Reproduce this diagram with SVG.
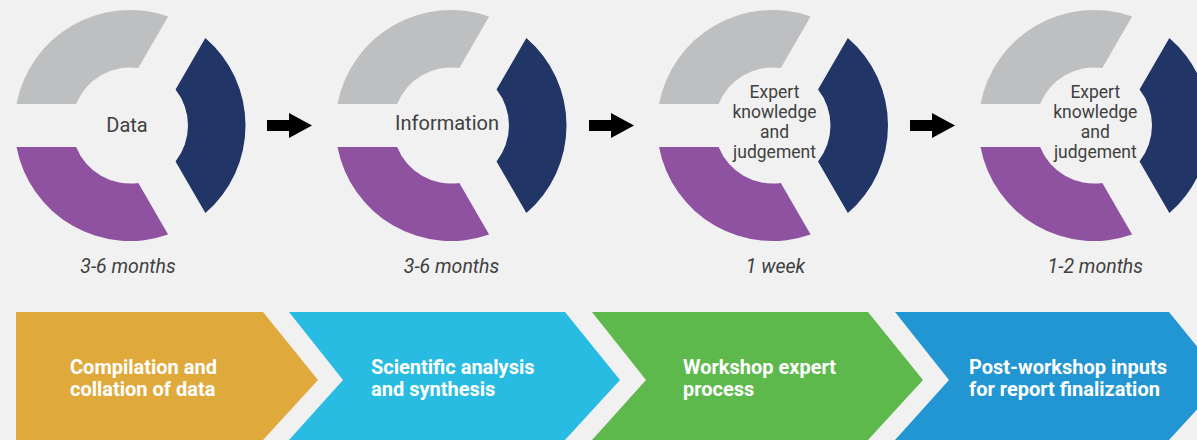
<svg xmlns="http://www.w3.org/2000/svg" xmlns:xlink="http://www.w3.org/1999/xlink" width="1197" height="440" viewBox="0 0 1197 440">
<style>
.gray{fill:#BEBFC1}
.purple{fill:#8E52A0}
.navy{fill:#213566}
.lbl{font-family:Roboto,"Liberation Sans",sans-serif;fill:#404040;text-anchor:middle}
.l20{font-size:20px}
.l17{font-size:17.5px}
.dur{font-family:Roboto,"Liberation Sans",sans-serif;font-style:italic;font-size:19.5px;fill:#404040;text-anchor:middle}
.chev-t{font-family:Roboto,"Liberation Sans",sans-serif;font-weight:bold;font-size:20px;fill:#FFFFFF}
.arrow{fill:#000000}
</style>
<defs>
<g id="donut">
<path class="gray" d="M-113.48,-21.5 A115.5,115.5 0 0 1 38.12,-109.03 L8.315,-57.4 A58,58 0 0 0 -53.87,-21.5 Z"/>
<path class="purple" d="M-113.48,21.5 A115.5,115.5 0 0 0 38.12,109.03 L8.315,57.4 A58,58 0 0 1 -53.87,21.5 Z"/>
<path class="navy" d="M75.36,-87.53 A115.5,115.5 0 0 1 75.36,87.53 L45.555,35.9 A58,58 0 0 0 45.555,-35.9 Z"/>
</g>
<polygon id="arr" points="0,120 22,120 22,113 45,125.5 22,138 22,131 0,131"/>
</defs>
<rect x="0" y="0" width="1197" height="440" fill="#F1F1F1"/>

<g id="donut-data">
<use xlink:href="#donut" transform="translate(130,125.5)"/>
<text class="lbl l20" x="127" y="132">Data</text>
<text class="dur" x="128" y="273">3-6 months</text>
</g>
<g id="donut-information">
<use xlink:href="#donut" transform="translate(451,125.5)"/>
<text class="lbl l20" x="447" y="129.5">Information</text>
<text class="dur" x="451.5" y="273">3-6 months</text>
</g>
<g id="donut-expert-1">
<use xlink:href="#donut" transform="translate(772.5,125.5)"/>
<text class="lbl l17" x="774.5" y="98">Expert</text>
<text class="lbl l17" x="774.5" y="118">knowledge</text>
<text class="lbl l17" x="774.5" y="138">and</text>
<text class="lbl l17" x="774.5" y="158">judgement</text>
<text class="dur" x="775.5" y="273">1 week</text>
</g>
<g id="donut-expert-2">
<use xlink:href="#donut" transform="translate(1094,125.5)"/>
<text class="lbl l17" x="1095.3" y="98">Expert</text>
<text class="lbl l17" x="1095.3" y="118">knowledge</text>
<text class="lbl l17" x="1095.3" y="138">and</text>
<text class="lbl l17" x="1095.3" y="158">judgement</text>
<text class="dur" x="1095.3" y="273">1-2 months</text>
</g>

<g id="connectors">
<use xlink:href="#arr" class="arrow" transform="translate(267,0)"/>
<use xlink:href="#arr" class="arrow" transform="translate(589,0)"/>
<use xlink:href="#arr" class="arrow" transform="translate(910,0)"/>
</g>

<g id="step-compilation">
<polygon fill="#E0A93B" points="16,312 263,312 318,380 263,440 16,440"/>
<text class="chev-t" x="70" y="374">Compilation and</text>
<text class="chev-t" x="70" y="396">collation of data</text>
</g>
<g id="step-analysis">
<polygon fill="#29BCE2" points="289,312 565,312 620,380 565,440 289,440 343,380"/>
<text class="chev-t" x="371" y="374">Scientific analysis</text>
<text class="chev-t" x="371" y="396">and synthesis</text>
</g>
<g id="step-workshop">
<polygon fill="#5DB94B" points="592,312 868,312 923,380 868,440 592,440 646,380"/>
<text class="chev-t" x="683" y="374">Workshop expert</text>
<text class="chev-t" x="683" y="396">process</text>
</g>
<g id="step-post">
<polygon fill="#2196D3" points="895,312 1169,312 1224,380 1169,440 895,440 949,380"/>
<text class="chev-t" x="969" y="374">Post-workshop inputs</text>
<text class="chev-t" x="969" y="396">for report finalization</text>
</g>
</svg>
